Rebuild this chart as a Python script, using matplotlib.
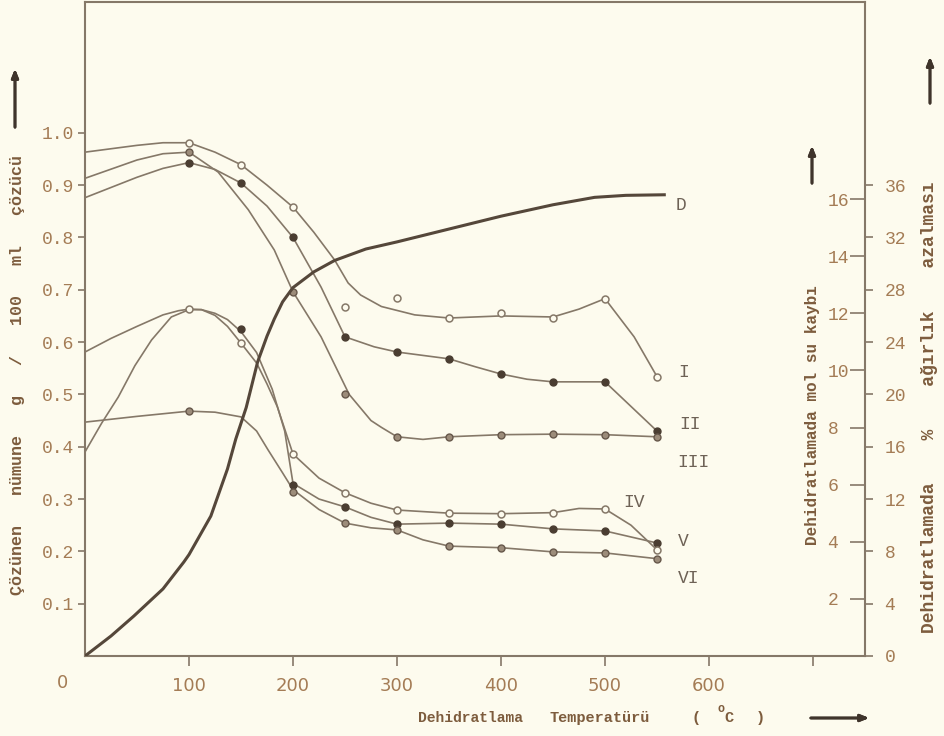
import matplotlib.pyplot as plt

plt.rcParams['font.family'] = ['Liberation Mono', 'DejaVu Sans']
plt.rcParams['mathtext.fontset'] = 'custom'
plt.rcParams['mathtext.rm'] = 'Liberation Mono'

PAPER = '#fdfbee'
LINE = '#857868'
TEXT = '#a47c55'
LABEL = '#7d5c3d'
DARK = '#55473a'

W, H = 944, 736

# measured points (temperature in C, solubility g / 100 ml)
temps = [100, 150, 200, 250, 300, 350, 400, 450, 500, 550]
i_pts = [0.981, 0.939, 0.858, 0.667, 0.684, 0.646, 0.656, 0.646, 0.683, 0.534]
ii_pts = [0.943, 0.904, 0.800, 0.610, 0.581, 0.568, 0.539, 0.524, 0.524, 0.430]
iii_temps = [100, 200, 250, 300, 350, 400, 450, 500, 550]
iii_pts = [0.963, 0.696, 0.500, 0.419, 0.419, 0.423, 0.424, 0.423, 0.419]
iv_pts = [0.663, 0.598, 0.386, 0.312, 0.279, 0.273, 0.272, 0.274, 0.281, 0.203]
v_temps = [150, 200, 250, 300, 350, 400, 450, 500, 550]
v_pts = [0.625, 0.327, 0.285, 0.252, 0.254, 0.252, 0.243, 0.239, 0.216]
vi_temps = [100, 200, 250, 300, 350, 400, 450, 500, 550]
vi_pts = [0.468, 0.314, 0.254, 0.241, 0.210, 0.207, 0.199, 0.197, 0.186]

# hand drawn curves
i_cx = [0, 50, 75, 100, 125, 150, 175, 200, 220, 240, 253, 265, 285, 317, 350, 400, 450, 475, 500, 528, 550]
i_cy = [0.963, 0.976, 0.981, 0.981, 0.963, 0.939, 0.900, 0.858, 0.810, 0.757, 0.713, 0.690, 0.668, 0.652,
        0.646, 0.650, 0.648, 0.663, 0.683, 0.610, 0.534]
ii_cx = [0, 50, 75, 100, 125, 150, 175, 200, 227, 250, 278, 300, 350, 375, 400, 425, 450, 500, 550]
ii_cy = [0.876, 0.915, 0.932, 0.943, 0.930, 0.904, 0.860, 0.800, 0.705, 0.610, 0.591, 0.581, 0.568, 0.553,
         0.539, 0.529, 0.524, 0.524, 0.430]
iii_cx = [0, 50, 75, 100, 128, 157, 182, 200, 227, 254, 275, 285, 300, 325, 350, 400, 450, 500, 550]
iii_cy = [0.913, 0.948, 0.960, 0.963, 0.925, 0.853, 0.776, 0.696, 0.610, 0.500, 0.450, 0.437, 0.419, 0.414,
          0.419, 0.423, 0.424, 0.423, 0.419]
iv_cx = [0, 25, 50, 75, 90, 100, 112, 125, 137, 150, 165, 175, 185, 200, 225, 250, 275, 300, 350, 400, 450,
         475, 500, 525, 550]
iv_cy = [0.581, 0.607, 0.630, 0.652, 0.660, 0.663, 0.662, 0.651, 0.630, 0.598, 0.560, 0.520, 0.476, 0.386,
         0.340, 0.312, 0.292, 0.279, 0.273, 0.272, 0.274, 0.282, 0.281, 0.250, 0.203]
v_cx = [0, 16, 32, 48, 64, 83, 100, 112, 125, 137, 150, 165, 180, 192, 198, 200, 225, 250, 275, 300, 350, 400,
        450, 500, 550]
v_cy = [0.390, 0.445, 0.495, 0.555, 0.604, 0.648, 0.662, 0.662, 0.655, 0.643, 0.620, 0.580, 0.510, 0.430,
        0.355, 0.330, 0.300, 0.285, 0.265, 0.252, 0.254, 0.252, 0.243, 0.239, 0.216]
vi_cx = [0, 50, 100, 125, 150, 165, 176, 190, 200, 225, 250, 275, 300, 325, 350, 400, 450, 500, 550]
vi_cy = [0.447, 0.458, 0.468, 0.466, 0.457, 0.430, 0.394, 0.350, 0.318, 0.280, 0.254, 0.245, 0.241, 0.222,
         0.210, 0.207, 0.199, 0.197, 0.186]

# curve D: mol water lost on dehydration
d_x = [0, 25, 47, 75, 95, 100, 121, 137, 145, 155, 166, 175, 182, 190, 200, 220, 240, 270, 300, 350, 400,
       450, 490, 520, 557]
d_mol = [0, 0.7, 1.4, 2.35, 3.29, 3.55, 4.9, 6.55, 7.6, 8.7, 10.3, 11.2, 11.8, 12.4, 12.9, 13.45, 13.85,
         14.25, 14.5, 14.95, 15.4, 15.8, 16.06, 16.13, 16.15]

x_ticks = [100, 200, 300, 400, 500, 600, 700]
x_labels = ['100', '200', '300', '400', '500', '600', '']
left_ticks = [0.1, 0.2, 0.3, 0.4, 0.5, 0.6, 0.7, 0.8, 0.9, 1.0]
mol_ticks = [2, 4, 6, 8, 10, 12, 14, 16]
pct_ticks = [0, 4, 8, 12, 16, 20, 24, 28, 32, 36]


def fpx(x, y):
    return x / W, 1 - y / H


fig = plt.figure(figsize=(W / 100, H / 100), dpi=100, facecolor=PAPER)
ax = fig.add_axes([85 / W, 80 / H, 780 / W, 654 / H])
ax.set_facecolor(PAPER)
ax.set_xlim(0, 750)
ax.set_ylim(0, 1.25)

open_style = dict(marker='o', ms=5, mfc=PAPER, mec=LINE, mew=1.1, ls='none', zorder=4)
full_style = dict(marker='o', ms=5, mfc='#4a3d31', mec='#4a3d31', mew=1, ls='none', zorder=4)
grey_style = dict(marker='o', ms=5, mfc='#9c8c7a', mec='#66574a', mew=1, ls='none', zorder=4)

for cx, cy in [(i_cx, i_cy), (ii_cx, ii_cy), (iii_cx, iii_cy), (iv_cx, iv_cy), (v_cx, v_cy), (vi_cx, vi_cy)]:
    ax.plot(cx, cy, color=LINE, lw=1.2, zorder=2, solid_joinstyle='round')

ax.plot(v_temps, v_pts, **full_style)
ax.plot(temps, i_pts, **open_style)
ax.plot(temps, ii_pts, **full_style)
ax.plot(iii_temps, iii_pts, **grey_style)
ax.plot(temps, iv_pts, **open_style)
ax.plot(vi_temps, vi_pts, **grey_style)

labels = [('D', 568, 0.862), ('I', 570, 0.541), ('II', 571, 0.442), ('III', 569, 0.369),
          ('IV', 518, 0.294), ('V', 570, 0.218), ('VI', 570, 0.149)]
for name, lx, ly in labels:
    ax.text(lx, ly, name, fontsize=13, color='#6e6256', va='center', ha='left')

for side in ['left', 'right', 'top', 'bottom']:
    ax.spines[side].set_color(LINE)
    ax.spines[side].set_linewidth(1.5)

ax.set_xticks(x_ticks)
ax.set_xticklabels(x_labels, family=['Liberation Sans Narrow', 'DejaVu Sans'], fontsize=13)
ax.set_yticks(left_ticks)
ax.set_yticklabels([f'{v:.1f}' for v in left_ticks], fontsize=13)
ax.tick_params(axis='x', direction='out', length=7, width=1.2, color=LINE, labelcolor=TEXT, pad=8)
ax.tick_params(axis='y', direction='out', length=5, width=1.2, color=LINE, labelcolor=TEXT, pad=3)
fig.text(*fpx(63, 683), '0', family=['Liberation Sans Narrow', 'DejaVu Sans'], fontsize=13,
         color=TEXT, ha='center', va='center')

ax_mol = ax.twinx()
ax_mol.set_ylim(0, 22.9)
ax_mol.plot(d_x, d_mol, color=DARK, lw=2.2, zorder=3, solid_joinstyle='round')
ax_mol.set_yticks(mol_ticks)
ax_mol.set_yticklabels([str(v) for v in mol_ticks], fontsize=13)
ax_mol.tick_params(axis='y', direction='in', length=11, width=1.2, color=LINE, labelcolor=TEXT, pad=-27)
for side in ['left', 'right', 'top', 'bottom']:
    ax_mol.spines[side].set_visible(False)

ax_pct = ax.twinx()
ax_pct.set_ylim(0, 50)
ax_pct.set_yticks(pct_ticks)
ax_pct.set_yticklabels([str(v) for v in pct_ticks], fontsize=13)
ax_pct.tick_params(axis='y', direction='out', length=6, width=1.2, color=LINE, labelcolor=TEXT, pad=8)
for side in ['left', 'right', 'top', 'bottom']:
    ax_pct.spines[side].set_visible(False)

fig.text(*fpx(18, 375), 'Çözünen   nümune   g   /   100   ml   çözücü', rotation=90, fontsize=12,
         color=LABEL, weight='bold', ha='center', va='center')
fig.text(*fpx(812, 415), 'Dehidratlamada mol su kaybı', rotation=90, fontsize=11.5,
         color=LABEL, weight='bold', ha='center', va='center')
fig.text(*fpx(930, 407), 'Dehidratlamada    %    ağırlık    azalması', rotation=90, fontsize=13,
         color=LABEL, weight='bold', ha='center', va='center')

# x axis title, placed piece by piece like the typed original
for piece, px, py, size in [('Dehidratlama', 418, 718, 10.5), ('Temperatürü', 550, 718, 11),
                            ('(', 692, 718, 11), ('o', 717, 709, 8.5), ('C', 724, 718, 11),
                            (')', 756, 718, 11)]:
    fig.text(*fpx(px, py), piece, fontsize=size, color=LABEL, weight='bold', ha='left', va='center')

arrow = dict(arrowstyle='-|>,head_length=0.5,head_width=0.2', color='#3f342b', lw=2)
for (x0, y0), (x1, y1) in [((15, 130), (15, 66)), ((812, 186), (812, 143)),
                           ((930, 106), (930, 54)), ((808, 718), (872, 718))]:
    fig.add_artist(plt.annotate('', xy=fpx(x1, y1), xytext=fpx(x0, y0), xycoords='figure fraction',
                                textcoords='figure fraction', arrowprops=arrow))

fig.savefig('out.png', dpi=100, facecolor=PAPER)
